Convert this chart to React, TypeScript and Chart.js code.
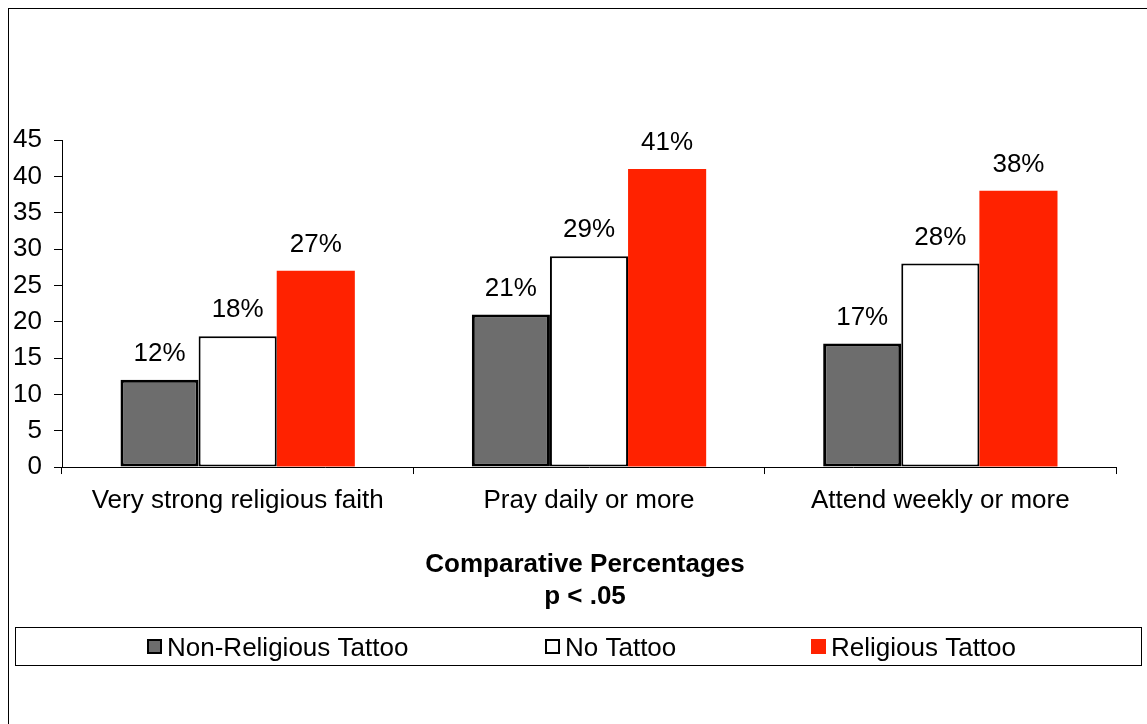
import React, { useEffect, useRef } from "react";
import { Chart, registerables } from "chart.js";

Chart.register(...registerables);

const categories = ["Very strong religious faith", "Pray daily or more", "Attend weekly or more"];
const seriesNames = ["Non-Religious Tattoo", "No Tattoo", "Religious Tattoo"];
const nonReligiousTattoo = [12, 21, 17];
const noTattoo = [18, 29, 28];
const religiousTattoo = [27, 41, 38];
const yMin = 0;
const yMax = 45;
const yStep = 5;
const titleLines = ["Comparative Percentages", "p < .05"];

const FONT = "'Liberation Sans', Arial, sans-serif";

const dataLabelPlugin = {
  id: "dataLabels",
  afterDatasetsDraw(chart: any) {
    const ctx = chart.ctx;
    ctx.save();
    ctx.font = `26px ${FONT}`;
    ctx.fillStyle = "#000";
    ctx.textAlign = "center";
    ctx.textBaseline = "middle";
    chart.data.datasets.forEach((ds: any, i: number) => {
      const meta = chart.getDatasetMeta(i);
      meta.data.forEach((el: any, j: number) => {
        ctx.fillText(`${ds.data[j]}%`, el.x, el.y - 26);
      });
    });
    ctx.restore();
  },
};

const boxedLegendPlugin = {
  id: "boxedLegend",
  afterDraw(chart: any) {
    const ctx = chart.ctx;
    ctx.save();
    ctx.strokeStyle = "#000";
    ctx.lineWidth = 1;
    ctx.strokeRect(6.5, 618.5, 1126, 38);
    const starts = [138, 536, 802];
    ctx.font = `26px ${FONT}`;
    ctx.textBaseline = "middle";
    ctx.textAlign = "left";
    chart.data.datasets.forEach((ds: any, i: number) => {
      const x = starts[i];
      const y = 630;
      const s = 15;
      ctx.fillStyle = ds.backgroundColor;
      ctx.fillRect(x, y, s, s);
      if (ds.borderWidth > 0) {
        ctx.strokeStyle = "#000";
        ctx.lineWidth = 2;
        ctx.strokeRect(x + 1, y + 1, s - 2, s - 2);
      }
      ctx.fillStyle = "#000";
      ctx.fillText(ds.label, x + 20, 640);
    });
    ctx.restore();
  },
};

export default function App() {
  const ref = useRef<HTMLCanvasElement>(null);
  useEffect(() => {
    if (!ref.current) return;
    const ticks: number[] = [];
    for (let v = yMin; v <= yMax; v += yStep) ticks.push(v);
    const chart = new Chart(ref.current, {
      type: "bar",
      data: {
        labels: categories,
        datasets: [
          {
            label: seriesNames[0],
            data: nonReligiousTattoo,
            backgroundColor: "#6d6d6d",
            borderColor: "#000",
            borderWidth: 3,
            borderSkipped: false,
          },
          {
            label: seriesNames[1],
            data: noTattoo,
            backgroundColor: "#ffffff",
            borderColor: "#000",
            borderWidth: 2,
            borderSkipped: false,
          },
          {
            label: seriesNames[2],
            data: religiousTattoo,
            backgroundColor: "#ff2200",
            borderColor: "#ff2200",
            borderWidth: 0,
          },
        ],
      },
      options: {
        responsive: false,
        animation: false,
        devicePixelRatio: 1,
        layout: { padding: { top: 131, right: -14, bottom: 111, left: 0 } },
        datasets: { bar: { categoryPercentage: 0.667, barPercentage: 1 } },
        plugins: {
          legend: { display: false },
          tooltip: { enabled: false },
          title: {
            display: true,
            position: "bottom",
            text: titleLines,
            color: "#000",
            font: { family: FONT, size: 26, weight: "bold", lineHeight: 1.23 },
            padding: { top: 22, bottom: 0 },
          },
        },
        scales: {
          x: {
            afterFit: (s: any) => {
              s.height = 60;
            },
            grid: {
              display: true,
              drawOnChartArea: false,
              drawTicks: true,
              tickLength: 7,
              color: "#000",
              offset: true,
            },
            border: { display: true, color: "#000", width: 1 },
            ticks: { color: "#000", font: { family: FONT, size: 26 }, padding: 11, maxRotation: 0 },
          },
          y: {
            min: yMin,
            max: yMax,
            afterFit: (s: any) => {
              s.width = 53;
            },
            afterBuildTicks: (s: any) => {
              s.ticks = ticks.map((v) => ({ value: v }));
            },
            grid: {
              display: true,
              drawOnChartArea: false,
              drawTicks: true,
              tickLength: 8,
              color: "#000",
            },
            border: { display: true, color: "#000", width: 1 },
            ticks: { color: "#000", font: { family: FONT, size: 26 }, padding: 12 },
          },
          yRightSpace: {
            type: "linear",
            axis: "y",
            position: "right",
            display: true,
            afterFit: (s: any) => {
              s.width = 45;
            },
            grid: { display: false },
            border: { display: false },
            ticks: { display: false },
          },
        },
      },
      plugins: [dataLabelPlugin, boxedLegendPlugin],
    });
    return () => chart.destroy();
  }, []);
  return (
    <div
      style={{
        position: "fixed",
        left: 8,
        top: 8,
        width: 1138,
        height: 720,
        borderLeft: "1px solid #000",
        borderTop: "1px solid #000",
        overflow: "hidden",
      }}
    >
      <canvas ref={ref} width={1138} height={715} style={{ display: "block" }} />
    </div>
  );
}
